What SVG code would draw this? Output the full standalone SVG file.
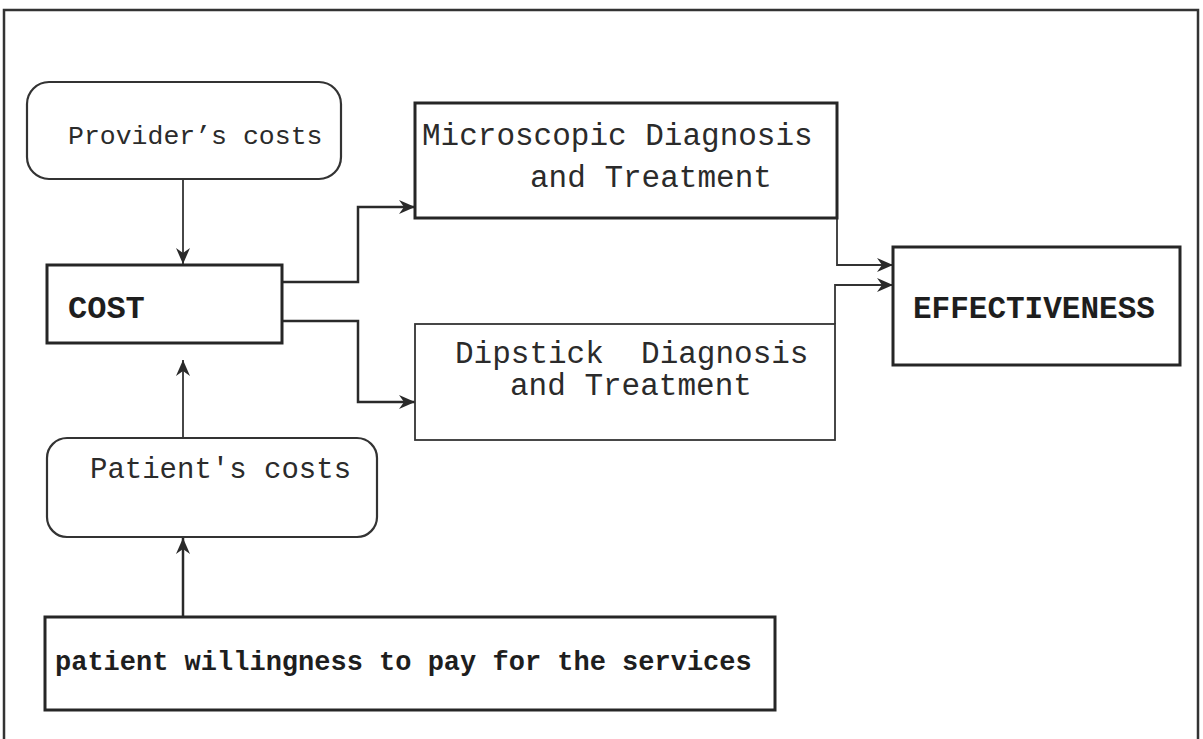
<svg xmlns="http://www.w3.org/2000/svg" width="1203" height="739" viewBox="0 0 1203 739">
<style>
.box{fill:#fff;stroke:#262626;stroke-width:3}
.rbox{fill:#fff;stroke:#333;stroke-width:2.2}
.t{font-family:"Liberation Mono","Courier New","DejaVu Sans Mono",monospace;fill:#2b2b2b}
.b{font-weight:bold;fill:#1e1e1e}
.c{fill:none;stroke:#2a2a2a;stroke-width:2.5}
.c2{fill:none;stroke:#333;stroke-width:1.8}
</style>
<defs>
<marker id="ah" markerWidth="18" markerHeight="16" refX="16" refY="7" orient="auto" markerUnits="userSpaceOnUse">
<path d="M0,0 L16,7 L0,14 L5,7 z" fill="#2a2a2a"/>
</marker>
</defs>
<rect x="4" y="10" width="1194" height="740" fill="#fff" stroke="#333" stroke-width="2.5"/>
<g id="connectors">
<path class="c2" d="M183,180 V264" marker-end="url(#ah)"/>
<path class="c" d="M282,282 H358 V207 H415" marker-end="url(#ah)"/>
<path class="c" d="M282,321 H358 V402 H415" marker-end="url(#ah)"/>
<path class="c2" d="M837,218 V265 H893" marker-end="url(#ah)"/>
<path class="c2" d="M835,324 V285 H893" marker-end="url(#ah)"/>
<path class="c2" d="M183,438 V360" marker-end="url(#ah)"/>
<path class="c" d="M183,617 V538" marker-end="url(#ah)"/>
</g>
<g id="provider">
<rect class="rbox" x="27" y="82" width="314" height="97" rx="22"/>
<text class="t" x="68" y="144" font-size="26.5">Provider’s costs</text>
</g>
<g id="cost">
<rect class="box" x="47" y="265" width="235" height="78"/>
<text class="t b" x="68" y="318" font-size="32">COST</text>
</g>
<g id="microscopic">
<rect class="box" x="415" y="103" width="422" height="115"/>
<text class="t" x="422" y="145" font-size="31">Microscopic Diagnosis</text>
<text class="t" x="530" y="187" font-size="31">and Treatment</text>
</g>
<g id="dipstick">
<rect class="c2" x="415" y="324" width="420" height="116" fill="#fff"/>
<text class="t" x="455" y="363" font-size="31" xml:space="preserve">Dipstick  Diagnosis</text>
<text class="t" x="510" y="395" font-size="31">and Treatment</text>
</g>
<g id="effectiveness">
<rect class="box" x="893" y="247" width="287" height="118"/>
<text class="t b" x="913" y="318" font-size="31">EFFECTIVENESS</text>
</g>
<g id="patient">
<rect class="rbox" x="47" y="438" width="330" height="99" rx="20"/>
<text class="t" x="90" y="478" font-size="29">Patient's costs</text>
</g>
<g id="willingness">
<rect class="box" x="45" y="617" width="730" height="93"/>
<text class="t b" x="55" y="670" font-size="27">patient willingness to pay for the services</text>
</g>
</svg>
